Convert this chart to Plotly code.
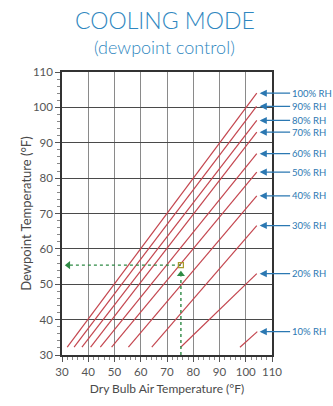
import plotly.graph_objects as go

# Relative-humidity lines: dewpoint vs dry bulb, each drawn from its start to end point
rh_levels = [100, 90, 80, 70, 60, 50, 40, 30, 20, 10]
start_dry = [32.0, 34.6, 37.6, 40.9, 44.6, 48.9, 55.3, 64.2, 75.2, 97.8]
start_dew = [32.2, 32.2, 32.2, 32.2, 32.2, 32.2, 32.2, 32.2, 32.2, 32.2]
end_dry = [104.2, 104.1, 104.2, 104.2, 104.2, 104.2, 104.2, 104.2, 104.2, 104.4]
end_dew = [104.0, 100.3, 96.3, 93.0, 86.9, 81.7, 75.0, 66.6, 53.0, 36.6]

# Worked example: 75 °F dry bulb reading across to about 55 °F dewpoint
example_dry = 75.3
example_dew = 55.4

x_ticks = [30, 40, 50, 60, 70, 80, 90, 100, 110]
y_ticks = [30, 40, 50, 60, 70, 80, 90, 100, 110]

RED = "#c4464f"
BLUE = "#2b78b2"
GREEN = "#2f8a45"
TEXT = "#4a4a4a"
TITLE = "#2f87c0"
FONT = "Lato"

fig = go.Figure()

for rh, x0, y0, x1, y1 in zip(rh_levels, start_dry, start_dew, end_dry, end_dew):
    fig.add_trace(go.Scatter(
        x=[x0, x1], y=[y0, y1], mode="lines",
        line=dict(color=RED, width=1.2),
        hoverinfo="skip", showlegend=False,
    ))

# Dashed guide: up from the dry bulb axis, then across to the dewpoint axis
fig.add_trace(go.Scatter(
    x=[example_dry, example_dry], y=[30, example_dew - 3.2], mode="lines",
    line=dict(color=GREEN, width=1.4, dash="3px,3px"),
    hoverinfo="skip", showlegend=False,
))
fig.add_trace(go.Scatter(
    x=[example_dry], y=[example_dew - 2.6], mode="markers",
    marker=dict(symbol="triangle-up", size=7, color=GREEN),
    hoverinfo="skip", showlegend=False,
))
fig.add_trace(go.Scatter(
    x=[example_dry, 32.6], y=[example_dew, example_dew], mode="lines",
    line=dict(color=GREEN, width=1.4, dash="3px,3px"),
    hoverinfo="skip", showlegend=False,
))
fig.add_trace(go.Scatter(
    x=[32.4], y=[example_dew], mode="markers",
    marker=dict(symbol="triangle-left", size=7, color=GREEN),
    hoverinfo="skip", showlegend=False,
))
fig.add_trace(go.Scatter(
    x=[example_dry], y=[example_dew], mode="markers",
    marker=dict(symbol="square-open", size=5, color="#a89a2c", line=dict(width=1.2)),
    hoverinfo="skip", showlegend=False,
))

annotations = []
for rh, y1 in zip(rh_levels, end_dew):
    annotations.append(dict(
        x=105.3, y=y1, xref="x", yref="y",
        ax=116.9, ay=y1, axref="x", ayref="y",
        text=f"{rh}% RH", xanchor="left", yanchor="middle",
        showarrow=True, arrowhead=2, arrowsize=1.1, arrowwidth=1.3,
        arrowcolor=BLUE, standoff=0,
        font=dict(family=FONT, size=9.5, color=BLUE),
    ))

annotations.append(dict(
    x=0.49, y=1.185, xref="paper", yref="paper", showarrow=False,
    text="COOLING MODE", font=dict(family=FONT, size=23, color=TITLE, weight=300),
    xanchor="center", yanchor="middle",
))
annotations.append(dict(
    x=0.49, y=1.09, xref="paper", yref="paper", showarrow=False,
    text="(dewpoint control)", font=dict(family=FONT, size=18, color=TITLE, weight=300),
    xanchor="center", yanchor="middle",
))
# Dewpoint axis title, placed just left of the tick labels
annotations.append(dict(
    x=-0.175, y=0.5, xref="paper", yref="paper", showarrow=False,
    text="Dewpoint Temperature (°F)", textangle=-90,
    font=dict(family=FONT, size=13, color=TEXT),
    xanchor="center", yanchor="middle",
))

fig.update_layout(
    width=333, height=406,
    margin=dict(l=62, r=61, t=72, b=49),
    paper_bgcolor="white", plot_bgcolor="white",
    annotations=annotations,
    font=dict(family=FONT, color=TEXT),
)

fig.update_xaxes(
    range=[30, 110], tickvals=x_ticks,
    showgrid=True, gridcolor="#8a8a8a", gridwidth=1,
    showline=True, linecolor="#333", linewidth=1.5, mirror=True,
    ticks="outside", ticklen=5, tickcolor="#555", tickwidth=1,
    minor=dict(dtick=2, ticks="outside", ticklen=3, tickcolor="#888", showgrid=False),
    tickfont=dict(family=FONT, size=11.5, color="#555"),
    title=dict(text="Dry Bulb Air Temperature (°F)", font=dict(family=FONT, size=12, color=TEXT),
               standoff=8),
    zeroline=False,
)
fig.update_yaxes(
    range=[30, 110], tickvals=y_ticks,
    showgrid=True, gridcolor="#4a4a4a", gridwidth=1.2,
    showline=True, linecolor="#333", linewidth=1.5, mirror=True,
    ticks="outside", ticklen=5, tickcolor="#555", tickwidth=1,
    minor=dict(dtick=2, ticks="outside", ticklen=3, tickcolor="#888", showgrid=False),
    tickfont=dict(family=FONT, size=11.5, color="#555"),
    zeroline=False,
)

fig.write_html("out.html")
